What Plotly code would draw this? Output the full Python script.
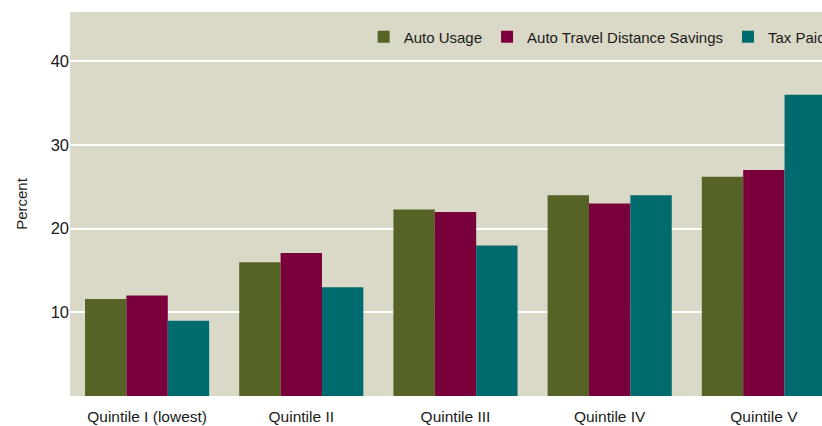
import plotly.graph_objects as go

quintiles = ['Quintile I (lowest)', 'Quintile II', 'Quintile III', 'Quintile IV', 'Quintile V']
auto_usage = [11.6, 16.0, 22.3, 24.0, 26.2]
travel_savings = [12.0, 17.1, 22.0, 23.0, 27.0]
tax_paid = [9.0, 13.0, 18.0, 24.0, 36.0]
y_ticks = [10, 20, 30, 40]

FONT = 'Liberation Sans, Arial, sans-serif'

fig = go.Figure()
fig.add_trace(go.Bar(x=quintiles, y=auto_usage, name='Auto Usage',
                     marker=dict(color='#566326', line=dict(width=0))))
fig.add_trace(go.Bar(x=quintiles, y=travel_savings, name='Auto Travel Distance Savings',
                     marker=dict(color='#79003b', line=dict(width=0))))
fig.add_trace(go.Bar(x=quintiles, y=tax_paid, name='Tax Paid',
                     marker=dict(color='#006b6f', line=dict(width=0))))

fig.update_layout(
    width=822, height=426,
    margin=dict(l=70, r=0, t=12, b=30, autoexpand=False),
    paper_bgcolor='white',
    plot_bgcolor='#dad8c6',
    barmode='group',
    bargap=0.195,
    bargroupgap=0,
    font=dict(family=FONT, size=16, color='#1a1a1a'),
    showlegend=True,
    legend=dict(orientation='h', x=0.3905, xanchor='left', y=0.935, yanchor='middle',
                bgcolor='rgba(0,0,0,0)', font=dict(size=15)),
    xaxis=dict(range=[-0.5, 4.377], showgrid=False, ticks='', showline=False,
               tickangle=0, tickfont=dict(size=15.5), ticklabelstandoff=9),
    yaxis=dict(range=[0, 45.9], tickvals=y_ticks, showgrid=True, gridcolor='white',
               gridwidth=1.5, zeroline=False, showline=False, ticks='',
               tickfont=dict(size=16.5),
               title=dict(text='Percent', font=dict(size=15), standoff=19)),
)

# drop the default body margin so the figure fills the window exactly
fig.write_html("out.html", config={'displayModeBar': False},
               post_script="document.body.style.margin='0';")
